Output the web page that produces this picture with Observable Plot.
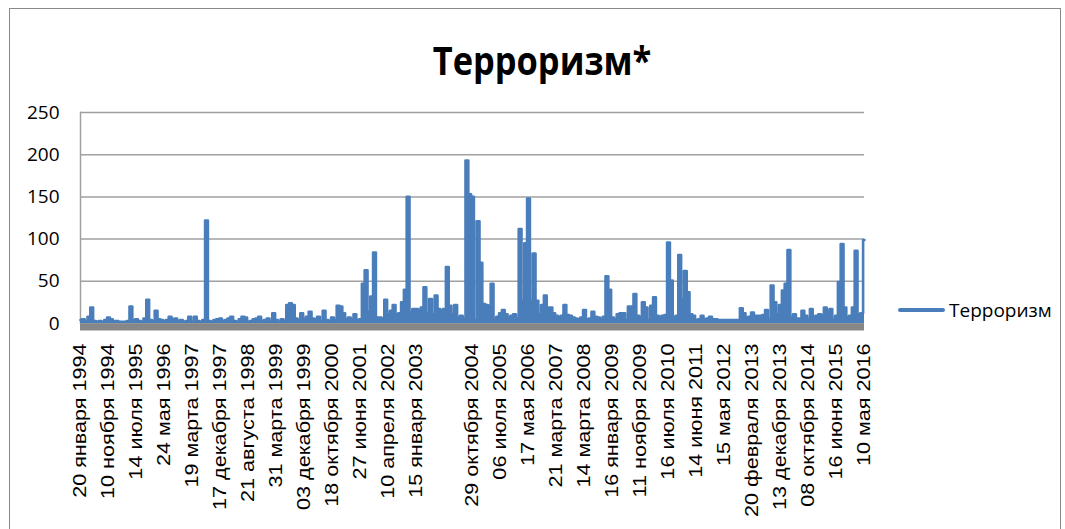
<!DOCTYPE html>
<html>
<head>
<meta charset="utf-8">
<script src="https://cdn.jsdelivr.net/npm/d3@7"></script>
<script src="https://cdn.jsdelivr.net/npm/@observablehq/plot@0.6"></script>
<style>
  body { margin: 0; background: #fff; }
  #wrap { position: relative; width: 1065px; height: 529px; overflow: hidden; background: #fff; }
  #frame { position: absolute; left: 9px; top: 8px; width: 1052px; height: 560px; border: 1.5px solid #8a8a8a; box-sizing: border-box; }
  #title { position: absolute; left: 0; width: 1085px; top: 32px; text-align: center; font-family: "Open Sans", sans-serif; font-weight: bold; font-size: 40px; line-height: 56px; color: #000; }
  #title span { display: inline-block; transform: scaleX(0.86); }
  #chart { position: absolute; left: 0; top: 0; }
  #legend { position: absolute; left: 898px; top: 296px; height: 28px; display: flex; align-items: center; font-family: "Open Sans", sans-serif; font-size: 19px; color: #000; }
  #legend .sw { display: inline-block; width: 47px; height: 4px; border-radius: 2px; margin-right: 4px; }
</style>
</head>
<body>
<div id="wrap">
  <div id="frame"></div>
  <div id="chart"></div>
  <div id="title"><span></span></div>
  <div id="legend"><span class="sw"></span><span class="lt"></span></div>
</div>
<script>
const chartTitle = "Терроризм*";
const seriesName = "Терроризм";
const lineColor = "#4a7ebb";

// Category labels shown on the axis (Excel shows one label every 10 categories)
const tickLabels = [
  "20 января 1994", "10 ноября 1994", "14 июля 1995", "24 мая 1996", "19 марта 1997",
  "17 декабря 1997", "21 августа 1998", "31 марта 1999", "03 декабря 1999", "18 октября 2000",
  "27 июня 2001", "10 апреля 2002", "15 января 2003", "", "29 октября 2004",
  "06 июля 2005", "17 мая 2006", "21 марта 2007", "14 марта 2008", "16 января 2009",
  "11 ноября 2009", "16 июля 2010", "14 июня 2011", "15 мая 2012", "20 февраля 2013",
  "13 декабря 2013", "08 октября 2014", "16 июня 2015", "10 мая 2016"
];
const labelInterval = 10;

// Series values, one per category
const values = [
  4,5,2,8,19,3,2,3,2,4,
  7,5,3,3,2,2,2,3,20,4,
  5,3,2,6,28,4,3,15,5,4,
  3,4,8,5,6,3,4,2,3,8,
  2,8,3,2,4,122,3,2,4,5,
  6,3,4,6,8,3,2,5,8,7,
  2,3,5,6,8,3,4,6,2,12,
  4,2,5,3,22,24,22,6,4,12,
  5,8,14,6,5,8,3,15,4,3,
  7,4,21,20,12,5,7,5,11,4,
  5,47,63,14,32,84,7,7,6,28,
  11,15,22,11,12,25,40,150,13,17,
  17,16,19,43,12,29,11,33,17,15,
  17,67,21,11,22,7,9,6,193,153,
  150,4,121,72,23,22,21,47,5,8,
  12,16,11,7,9,11,6,112,27,95,
  148,27,83,27,11,22,33,19,19,12,
  9,8,9,22,10,9,7,6,5,7,
  16,5,6,14,8,7,5,8,56,40,
  7,5,11,12,12,4,20,20,35,9,
  8,25,19,4,21,31,9,8,9,10,
  96,51,7,9,81,29,62,37,11,9,
  4,5,9,5,6,8,5,5,4,4,
  4,4,4,4,4,4,18,12,7,8,
  13,9,9,9,10,16,5,45,25,11,
  22,39,47,87,7,11,6,6,15,9,
  5,17,8,9,11,10,19,15,17,4,
  9,49,94,19,8,9,19,86,11,12,
  99
];
const yTicks = [0, 50, 100, 150, 200, 250];

const data = values.map((v, i) => ({i, v}));
const labelIdx = tickLabels.map((_, j) => j * labelInterval);

const plot = Plot.plot({
  width: 1065,
  height: 529,
  marginLeft: 80,
  marginRight: 201,
  marginTop: 112,
  marginBottom: 206,
  x: {domain: [0, values.length - 1]},
  y: {domain: [0, 250]},
  style: {background: "transparent", color: "#000", fontFamily: "'Liberation Sans', Arial, sans-serif"},
  marks: [
    Plot.gridY(yTicks, {stroke: "#a0a0a0", strokeOpacity: 1, strokeWidth: 1.5}),
    Plot.frame({anchor: "left", stroke: "#a0a0a0", strokeWidth: 1.5}),
    Plot.axisY(yTicks, {tickSize: 0, tickPadding: 21, fontSize: 19, fontFamily: "'Open Sans', sans-serif", label: null}),
    // dense category tick marks under the axis line appear as a solid grey band
    Plot.ruleY([0], {dy: 3.5, stroke: "#878787", strokeOpacity: 1, strokeWidth: 7}),
    Plot.axisX(labelIdx, {tickSize: 0, tickPadding: 20, tickRotate: -90, fontSize: 18,
      tickFormat: i => tickLabels[i / labelInterval], label: null}),
    Plot.areaY(data, {x: "i", y: "v", fill: lineColor, fillOpacity: 1, curve: "step"}),
    Plot.lineY(data, {x: "i", y: "v", stroke: lineColor, strokeWidth: 2.6, strokeLinejoin: "round", strokeLinecap: "round", curve: "step"})
  ]
});
document.getElementById("chart").appendChild(plot);

// stretch rotated category labels along their length
d3.select(plot).selectAll('g[aria-label="x-axis tick label"] text').each(function() {
  if (!this.textContent) return;
  const t = this.getAttribute("transform") || "";
  this.setAttribute("transform", t + " scale(1.2,1)");
});

document.querySelector("#title span").textContent = chartTitle;
document.querySelector("#legend .sw").style.background = lineColor;
document.querySelector("#legend .lt").textContent = seriesName;
</script>
</body>
</html>
